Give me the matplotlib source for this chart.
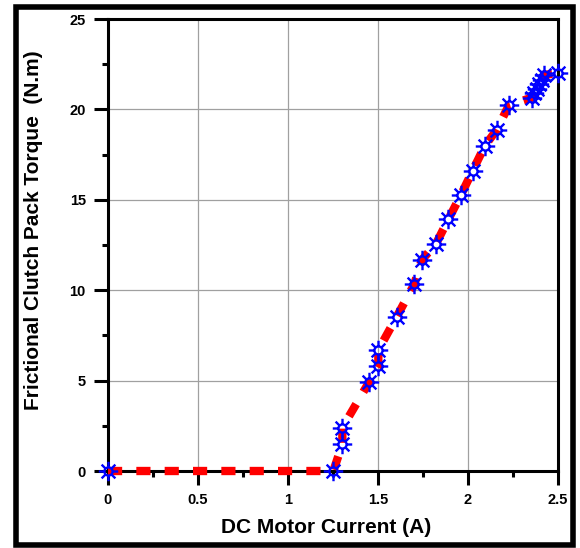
import numpy as np
import matplotlib
matplotlib.use("Agg")
import matplotlib.pyplot as plt
from matplotlib.path import Path
from matplotlib.patches import Rectangle
from matplotlib.ticker import MultipleLocator

plt.rcParams['font.family'] = ['Liberation Sans', 'DejaVu Sans']
plt.rcParams['font.weight'] = 'bold'

# DC motor current (A) vs frictional clutch pack torque (N.m)
current = [0.0, 1.252, 1.302, 1.302, 1.452, 1.502, 1.502, 1.604, 1.702, 1.743,
           1.822, 1.891, 1.961, 2.026, 2.094, 2.159, 2.228, 2.355, 2.368, 2.382,
           2.396, 2.412, 2.425, 2.502]
torque = [0.0, 0.0, 1.49, 2.40, 4.94, 5.82, 6.69, 8.53, 10.34, 11.67,
          12.56, 13.92, 15.27, 16.61, 17.99, 18.86, 20.24, 20.65, 20.92, 21.15,
          21.40, 21.65, 21.90, 22.03]

xticks = [0, 0.5, 1, 1.5, 2, 2.5]
xticklabels = ['0', '0.5', '1', '1.5', '2', '2.5']
yticks = [0, 5, 10, 15, 20, 25]

# sun-like marker: small ring with 8 spokes
ring = Path.circle((0, 0), 0.42)
spoke_verts, spoke_codes = [], []
for a in np.deg2rad(np.arange(0, 360, 45)):
    spoke_verts += [(0.42 * np.cos(a), 0.42 * np.sin(a)), (np.cos(a), np.sin(a))]
    spoke_codes += [Path.MOVETO, Path.LINETO]
sun = Path.make_compound_path(ring, Path(spoke_verts, spoke_codes))

fig = plt.figure(figsize=(5.8, 5.48), dpi=100)
ax = fig.add_axes([0.1862, 0.1405, 0.7758, 0.8248])

ax.plot(current, torque, color='#ff0000', lw=6, linestyle=(0, (1.7, 1.7)),
        dash_capstyle='butt', zorder=3, clip_on=False)
ax.plot(current, torque, linestyle='none', marker=sun, ms=14, mfc='none',
        mec='#0000ff', mew=1.7, zorder=4, clip_on=False)

ax.set_xlim(0, 2.5)
ax.set_ylim(0, 25)
ax.set_xticks(xticks)
ax.set_xticklabels(xticklabels)
ax.set_yticks(yticks)
ax.xaxis.set_minor_locator(MultipleLocator(0.25))
ax.yaxis.set_minor_locator(MultipleLocator(2.5))
ax.tick_params(which='major', direction='out', length=10, width=2.2,
               labelsize=10.5, pad=6)
ax.tick_params(which='minor', direction='out', length=4, width=2.2)
ax.grid(True, which='major', color='#a0a0a0', lw=0.9)
ax.set_axisbelow(True)
for s in ax.spines.values():
    s.set_linewidth(2.2)
    s.set_color('black')

ax.set_xlabel('DC Motor Current (A)', fontsize=15, fontweight='bold')
ax.set_ylabel('Frictional Clutch Pack Torque  (N.m)', fontsize=15, fontweight='bold')
ax.xaxis.set_label_coords(0.484, -0.105)
ax.yaxis.set_label_coords(-0.145, 0.533)

# black frame around the whole figure
fig.patches.append(Rectangle((15.5 / 580, 3.0 / 548), 557 / 580, 538 / 548,
                             transform=fig.transFigure, fill=False,
                             edgecolor='black', lw=4, zorder=10))

fig.savefig('out.png', dpi=100)
